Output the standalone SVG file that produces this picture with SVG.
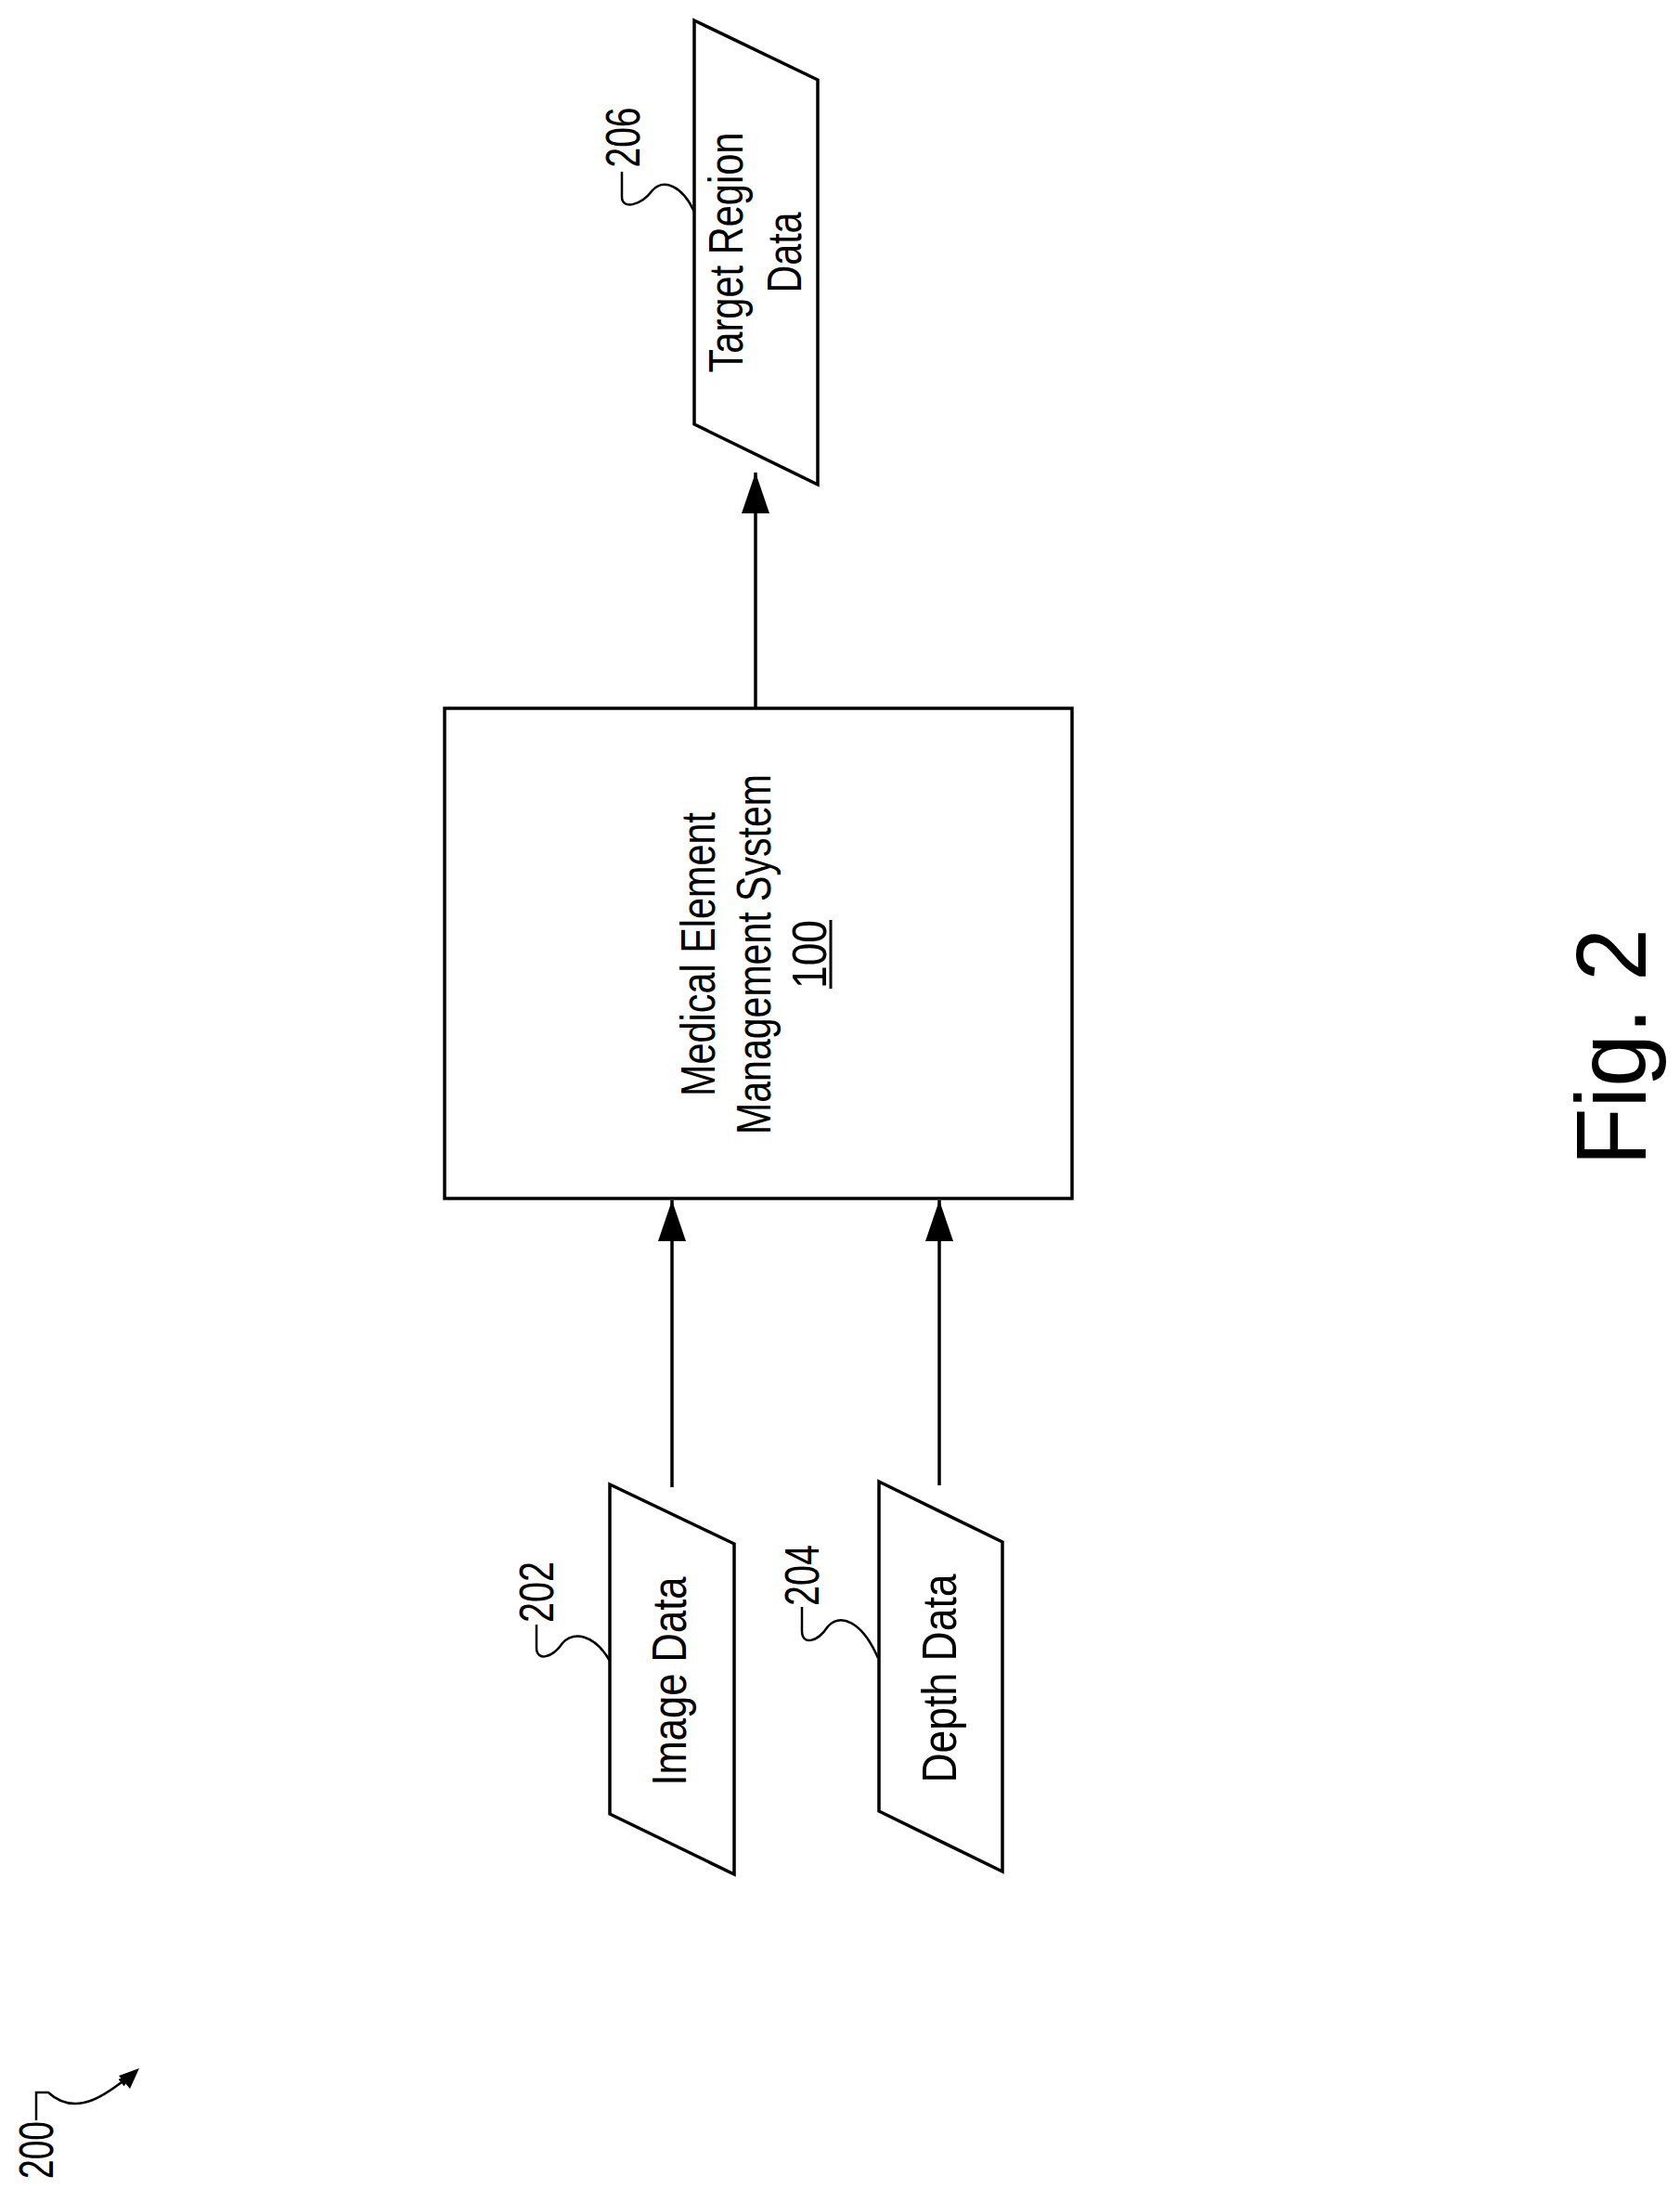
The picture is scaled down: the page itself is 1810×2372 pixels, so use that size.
<svg xmlns="http://www.w3.org/2000/svg" width="1810" height="2372" viewBox="0 0 1810 2372">
<style>
.s{fill:none;stroke:#000;stroke-width:3.5}
.l{fill:none;stroke:#000;stroke-width:2.5}
.t{font-family:"Liberation Sans",Arial,sans-serif;font-size:52px;fill:#000;text-anchor:middle;dominant-baseline:central}
</style>
<defs>
<marker id="a" markerWidth="12" markerHeight="10" refX="12" refY="5" orient="auto" markerUnits="userSpaceOnUse" viewBox="0 0 12 10">
<path d="M0,0 L12,5 L0,10 Z" fill="#000"/>
</marker>
<marker id="ah" viewBox="0 0 44 30" refX="44" refY="15" markerWidth="44" markerHeight="30" orient="auto" markerUnits="userSpaceOnUse"><path d="M0,0 L44,15 L0,30 Z" fill="#000"/></marker>
</defs>
<rect width="1810" height="2372" fill="#fff"/>
<g id="connectors">
<line class="s" x1="814" y1="763" x2="814" y2="509" marker-end="url(#ah)"/>
<line class="s" x1="724" y1="1602" x2="724" y2="1293" marker-end="url(#ah)"/>
<line class="s" x1="1012" y1="1600" x2="1012" y2="1293" marker-end="url(#ah)"/>
</g>
<g id="n100">
<rect class="s" x="479" y="763" width="676" height="528"/>
<text class="t" transform="translate(752,1028) rotate(-90)" textLength="306" lengthAdjust="spacingAndGlyphs">Medical Element</text>
<text class="t" transform="translate(812,1028) rotate(-90)" textLength="388" lengthAdjust="spacingAndGlyphs">Management System</text>
<text class="t" transform="translate(872,1028) rotate(-90)" textLength="74" lengthAdjust="spacingAndGlyphs">100</text>
<line x1="895" y1="991" x2="895" y2="1065" stroke="#000" stroke-width="3"/>
</g>
<g id="n206">
<polygon class="s" points="748,22 881,86 881,522 748,457"/>
<text class="t" transform="translate(782,272) rotate(-90)" textLength="259" lengthAdjust="spacingAndGlyphs">Target Region</text>
<text class="t" transform="translate(845,272) rotate(-90)" textLength="87" lengthAdjust="spacingAndGlyphs">Data</text>
<text class="t" transform="translate(671,148) rotate(-90)" textLength="65" lengthAdjust="spacingAndGlyphs">206</text>
<path class="l" d="M670,185 V212 C670,226 690,222 703,205 C715,192 735,200 748,228"/>
</g>
<g id="n202">
<polygon class="s" points="657,1599 791,1663 791,2019 657,1954"/>
<text class="t" transform="translate(721,1811) rotate(-90)" textLength="225" lengthAdjust="spacingAndGlyphs">Image Data</text>
<text class="t" transform="translate(578,1715) rotate(-90)" textLength="66" lengthAdjust="spacingAndGlyphs">202</text>
<path class="l" d="M578,1750 V1775 C578,1790 595,1786 606,1770 C618,1757 640,1760 657,1789"/>
</g>
<g id="n204">
<polygon class="s" points="947,1596 1080,1661 1080,2016 947,1951"/>
<text class="t" transform="translate(1012,1808) rotate(-90)" textLength="225" lengthAdjust="spacingAndGlyphs">Depth Data</text>
<text class="t" transform="translate(864,1697) rotate(-90)" textLength="66" lengthAdjust="spacingAndGlyphs">204</text>
<path class="l" d="M864,1731 V1757 C864,1772 880,1770 892,1752 C905,1738 928,1745 946,1786"/>
</g>
<g id="n200">
<text class="t" transform="translate(39,2316) rotate(-90)" textLength="62" lengthAdjust="spacingAndGlyphs">200</text>
<path class="l" d="M39,2284 V2254 H52 C65,2266 80,2270 100,2262 C115,2256 130,2244 140,2236" marker-end="url(#a)"/>
<path d="M150,2228 L128,2236 L140,2250 Z" fill="#000"/>
</g>
<g id="fig">
<text class="t" style="font-size:108px" transform="translate(1735,1128) rotate(-90)" textLength="256" lengthAdjust="spacingAndGlyphs">Fig. 2</text>
</g>
</svg>
